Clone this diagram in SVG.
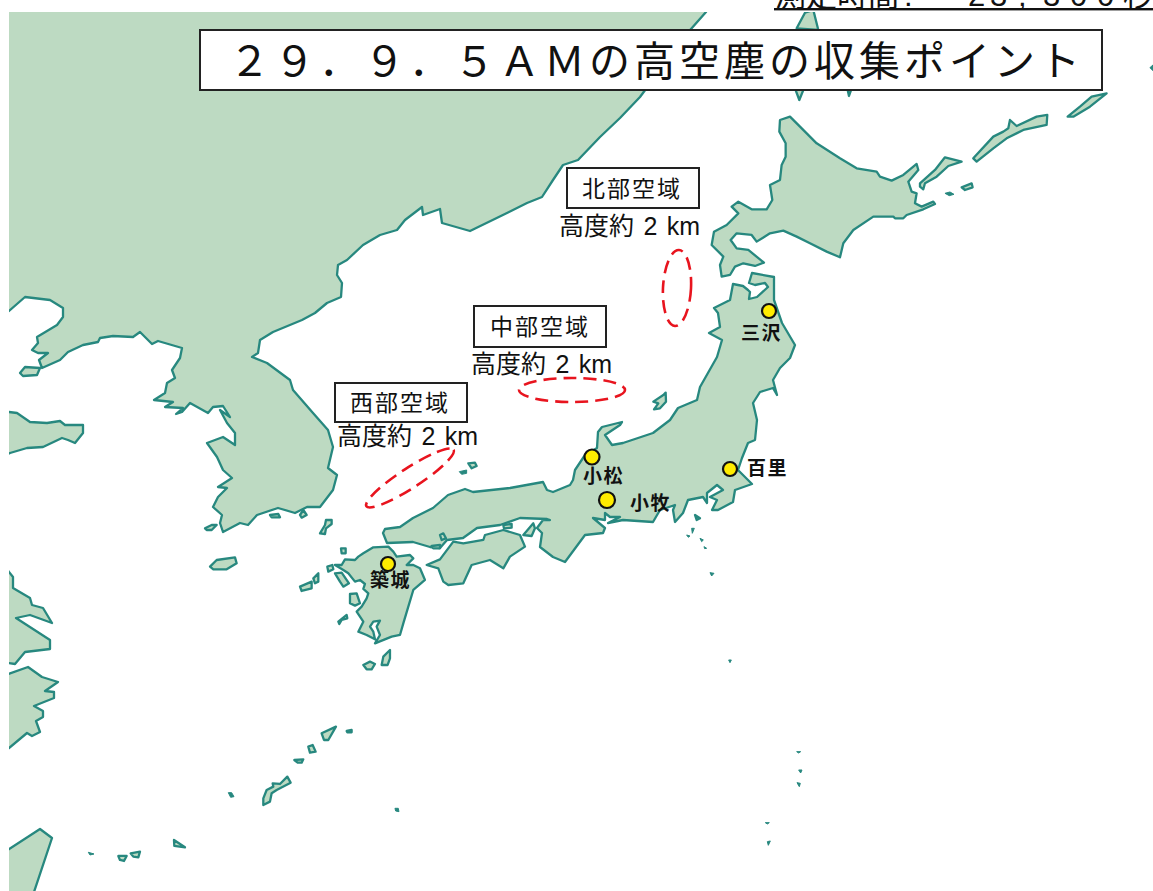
<svg xmlns="http://www.w3.org/2000/svg" width="1153" height="891" viewBox="0 0 1153 891">
<style>
.land{fill:#bddac2;stroke:#27887f;stroke-width:2.3;stroke-linejoin:round;vector-effect:non-scaling-stroke}
.dark{fill:#27887f;stroke:#27887f;stroke-width:1;vector-effect:non-scaling-stroke}
.box{fill:#fff;stroke:#222;stroke-width:2}
.zone{fill:none;stroke:#e8141e;stroke-width:2.6;stroke-dasharray:13 7}
.base{fill:#ffec00;stroke:#111;stroke-width:2.2}
text{font-family:"Liberation Sans","Noto Sans CJK JP",sans-serif;fill:#111}
.ttl{font-family:"Noto Sans CJK JP",sans-serif;font-size:41px;letter-spacing:4px}
.area{font-family:"Noto Sans CJK JP",sans-serif;font-size:23px;letter-spacing:2px}
.alt{font-size:25px;word-spacing:2.5px}
.bn{font-family:"Noto Sans CJK JP",sans-serif;font-size:19px;font-weight:700;letter-spacing:1.5px}
.top{font-size:31px}
</style>
<defs><clipPath id="m"><rect x="9" y="12" width="1144" height="879"/></clipPath></defs>
<rect width="1153" height="891" fill="#fff"/>
<g id="map" clip-path="url(#m)">
<g id="mainland">
<polygon class="land" points="0,0 712,0 706,12 691,29 660,70 640,97 620,118 600,137 578,160 563,165 553,180 542,197 527,203 507,213 470,231 442,223 440,209 423,215 422,207 405,220 397,230 380,235 363,245 347,260 338,265 337,275 342,283 341,297 327,303 315,313 302,320 273,332 260,340 258,353 252,357 267,363 290,380 293,390 313,413 328,430 333,447 328,468 337,475 333,490 320,507 307,507 295,513 278,508 257,515 248,525 240,523 223,532 220,523 222,515 213,507 218,497 227,488 218,487 232,478 223,470 217,457 207,443 223,437 235,445 235,433 227,423 220,410 230,417 223,406 213,407 208,413 190,403 182,412 176,414 183,408 165,407 173,402 154,400 165,393 167,383 175,378 172,370 180,358 182,348 158,341 152,344 140,332 133,337 113,336 100,338 98,342 83,345 68,352 60,360 42,368 39,360 48,353 38,353 32,350 38,343 37,337 57,325 63,317 63,308 50,300 25,297 9,311 0,316"/>
<polygon class="land" points="20,373 25,367 40,368 37,375 23,376"/>
<polygon class="land" points="0,412 9,412 17,413 30,422 47,423 60,421 65,425 83,425 83,433 75,443 68,440 62,438 43,447 27,448 10,453 0,458"/>
<polygon class="land" points="0,560 9,572 13,577 13,588 30,598 32,605 43,608 52,623 30,615 16,618 50,640 50,649 25,652 15,664 0,662"/>
<polygon class="land" points="0,677 28,667 42,677 58,682 45,691 54,692 54,698 34,706 43,711 43,717 36,721 40,732 32,736 27,733 9,748 0,755"/>
<polygon class="land" points="0,855 40,829 52,838 33,895 0,895"/>
</g>
<g id="sakhalin-kuril" transform="translate(640 0) scale(.3333)">
<polygon class="land" points="470,85 495,38 520,30 535,90"/>
<polygon class="land" points="465,265 492,265 478,300"/>
<polygon class="land" points="622,265 635,265 627,288"/>
<polygon class="land" points="840,550 885,510 915,472 965,485 925,498 890,530 855,550 850,568 840,560"/>
<polygon class="land" points="1000,475 1060,410 1090,395 1105,385 1110,360 1130,378 1190,350 1222,345 1220,375 1150,390 1100,415 1060,445 1010,485"/>
<polygon class="land" points="1283,350 1320,320 1355,290 1400,280 1350,320 1300,350"/>
<polygon class="land" points="965,562 995,550 998,562 975,570"/>
<polygon class="dark" points="915,580 930,576 942,583 928,587"/>
<polygon class="dark" points="1530,203 1539,195 1539,212"/>
</g>
<g id="hokkaido" transform="translate(640 0) scale(.3333)">
<polygon class="land" points="420,360 450,350 480,380 530,430 600,475 650,505 710,515 720,530 755,542 790,525 830,492 835,510 805,545 815,575 830,580 825,610 845,620 880,605 885,612 850,628 800,645 790,655 765,655 760,650 700,650 640,690 610,730 600,772 560,755 510,730 470,710 430,692 390,700 350,725 335,705 290,700 272,720 290,745 325,750 372,788 345,798 310,790 285,800 270,825 245,830 240,795 250,770 215,735 222,695 260,675 295,640 275,620 295,605 335,628 380,628 397,600 390,555 420,540 425,495 437,470 437,430 418,395"/>
</g>
<g id="honshu">
<polygon class="land" points="383,533 385,529 400,527 413,518 433,508 448,495 465,489 473,492 510,488 543,482 547,490 553,492 570,485 573,480 575,470 585,455 597,448 598,432 602,427 622,422 620,425 605,435 612,445 623,443 653,433 670,420 678,408 697,400 700,387 717,357 722,340 709,333 720,327 718,313 714,308 730,300 733,284 743,286 748,290 750,292 749,299 757,297 768,287 765,283 755,285 749,283 752,273 774,277 774,300 782,323 795,345 790,358 780,368 773,380 777,395 773,388 760,392 753,403 757,420 755,440 748,443 742,458 738,470 752,484 735,490 733,502 718,510 712,510 717,500 710,497 723,490 717,485 707,493 707,503 703,497 688,500 683,513 675,522 673,510 675,505 660,510 653,522 623,520 608,523 620,517 610,517 605,513 605,520 593,518 605,528 603,533 585,535 565,562 553,557 540,547 542,533 537,528 543,520 550,520 547,519 520,518 500,525 477,528 463,538 447,540 440,548 430,547 413,542 387,543"/>
</g>
<g id="west-japan" transform="translate(200 440) scale(.3333)">
<polygon class="land" points="680,375 720,358 760,305 790,310 850,300 855,285 910,270 960,285 975,320 930,350 910,385 870,360 815,375 790,430 745,435 730,425 715,385"/>
<polygon class="land" points="565,320 520,322 490,340 475,350 465,360 435,358 425,375 405,375 430,390 445,400 465,425 480,420 495,432 490,447 505,460 500,475 485,500 470,515 490,545 475,575 500,585 525,598 520,575 510,560 520,545 540,542 530,560 540,585 525,610 575,590 600,585 610,550 625,500 640,450 675,420 660,385 640,375 620,375 640,355 630,345 590,350 580,335"/>
<polygon class="land" points="405,400 425,398 447,430 430,440 420,425"/>
<polygon class="land" points="450,462 470,460 480,490 465,497 450,490"/>
<polygon class="land" points="970,285 1000,250 1005,265 995,288"/>
<polygon class="land" points="910,255 935,252 935,263 912,265"/>
<polygon class="land" points="695,318 720,315 720,325 700,325"/>
<polygon class="land" points="720,285 730,280 738,295 725,300"/>
<polygon class="land" points="30,380 50,360 105,352 110,370 80,388 40,388"/>
<polygon class="land" points="360,280 375,255 378,240 395,240 395,252 378,265 375,282"/>
<polygon class="land" points="300,225 310,210 320,225 305,233"/>
<polygon class="land" points="210,225 235,222 240,232 215,232"/>
<polygon class="land" points="15,265 35,255 50,255 35,270 20,270"/>
<polygon class="land" points="300,440 335,425 335,445 305,453"/>
<polygon class="land" points="340,415 355,400 355,425 345,430"/>
<polygon class="land" points="423,325 437,325 437,340 425,340"/>
<polygon class="land" points="382,380 397,375 400,388 385,395"/>
<polygon class="land" points="415,545 440,525 442,535 425,540 418,552"/>
<polygon class="land" points="545,675 550,650 570,630 570,655 563,675"/>
<polygon class="land" points="490,675 510,665 525,672 515,688 500,688"/>
<polygon class="land" points="805,70 825,68 830,78 815,85"/>
<polygon class="dark" points="778,95 800,90 800,100 785,103"/>
</g>
<g id="ryukyu" transform="translate(0 560) scale(.3333)">
<polygon class="land" points="965,520 1008,500 985,540 972,540"/>
<polygon class="land" points="1040,513 1055,510 1055,517 1042,517"/>
<polygon class="land" points="925,560 938,555 947,575 930,578"/>
<polygon class="land" points="883,600 910,598 905,608 893,608"/>
<polygon class="land" points="790,715 800,690 820,680 818,670 840,672 862,650 872,668 830,690 815,700 810,725 790,735"/>
<polygon class="dark" points="685,698 695,698 702,710 692,712"/>
<polygon class="dark" points="1185,745 1195,745 1197,755 1187,753"/>
<polygon class="land" points="522,840 555,862 523,858"/>
<polygon class="land" points="392,880 420,875 415,892 400,890"/>
<polygon class="land" points="355,888 380,888 372,903 360,900"/>
<polygon class="dark" points="265,877 282,882 270,885"/>
</g>
<g id="izu" transform="translate(560 280) scale(.3333)">
<polygon class="land" points="280,365 310,345 317,338 318,365 300,385 282,388 295,370"/>
<polygon class="land" points="405,705 420,715 410,720"/>
<polygon class="dark" points="395,745 403,745 397,760"/>
<polygon class="dark" points="380,765 390,768 385,772"/>
<polygon class="dark" points="420,775 430,780 425,785"/>
<polygon class="dark" points="432,800 440,805 434,806"/>
<polygon class="dark" points="450,878 462,880 455,888"/>
</g>
<g id="ogasawara" transform="translate(700 640) scale(.3333)">
<polygon class="dark" points="86,60 94,60 90,68"/>
<polygon class="dark" points="290,335 302,335 296,339"/>
<polygon class="dark" points="296,390 306,390 302,399"/>
<polygon class="dark" points="291,428 301,430 298,440"/>
<polygon class="dark" points="196,548 208,548 202,552"/>
<polygon class="dark" points="202,605 211,603 205,616"/>
</g>
</g>
<g id="top-note">
<text class="top" x="775" y="6">測定時間</text>
<text class="top" x="904" y="6">:</text>
<text class="top" x="968 990 1018 1043 1070 1097 1123" y="6">23,300秒</text>
<rect x="774" y="8" width="379" height="2.4" fill="#111"/>
</g>
<g id="title">
<rect class="box" x="200" y="30" width="902" height="60"/>
<text class="ttl" x="229" y="76">２９．９．５ＡＭの高空塵の収集ポイント</text>
</g>
<g id="zones">
<ellipse class="zone" cx="677" cy="288" rx="14" ry="38" transform="rotate(3 677 288)"/>
<ellipse class="zone" cx="572" cy="390" rx="53" ry="12"/>
<ellipse class="zone" cx="410" cy="478" rx="52" ry="10" transform="rotate(-33 410 478)"/>
</g>
<g id="north-area"><rect class="box" x="567" y="168" width="132" height="40"/><text class="area" x="582" y="197">北部空域</text><text class="alt" x="559" y="235">高度約 2 km</text></g>
<g id="central-area"><rect class="box" x="474" y="306" width="132" height="41"/><text class="area" x="490" y="335">中部空域</text><text class="alt" x="471" y="373">高度約 2 km</text></g>
<g id="west-area"><rect class="box" x="335" y="383" width="132" height="39"/><text class="area" x="350" y="411">西部空域</text><text class="alt" x="337" y="445">高度約 2 km</text></g>
<g id="misawa"><circle class="base" cx="769" cy="311" r="7"/><text class="bn" x="741" y="340">三沢</text></g>
<g id="komatsu"><circle class="base" cx="592" cy="457" r="7.5"/><text class="bn" x="583" y="483">小松</text></g>
<g id="komaki"><circle class="base" cx="607" cy="500" r="8"/><text class="bn" x="630" y="510">小牧</text></g>
<g id="hyakuri"><circle class="base" cx="730" cy="469" r="7"/><text class="bn" x="747" y="475">百里</text></g>
<g id="tsuiki"><circle class="base" cx="388" cy="564" r="7"/><text class="bn" x="370" y="587">築城</text></g>
</svg>
